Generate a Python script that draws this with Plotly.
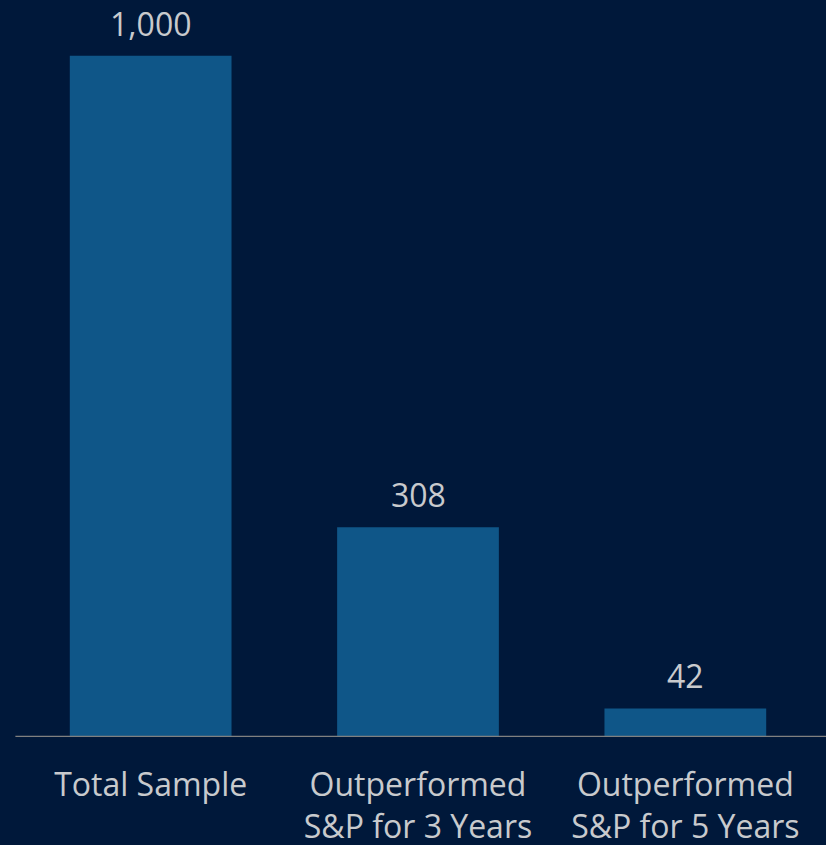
import plotly.graph_objects as go

categories = ["Total Sample", "Outperformed<br>S&P for 3 Years", "Outperformed<br>S&P for 5 Years"]
values = [1000, 308, 42]
value_labels = ["1,000", "308", "42"]

BG = "#00183A"
BAR = "#0F5688"
TEXT = "#C8CACD"
FONT = "Open Sans"

fig = go.Figure()
fig.add_trace(go.Bar(
    x=categories,
    y=values,
    marker=dict(color=BAR, line=dict(width=0)),
    width=0.605,
    hoverinfo="skip",
))

# value labels above each bar
for cat, val, lab in zip(categories, values, value_labels):
    fig.add_annotation(
        x=cat, y=val, text=lab, showarrow=False,
        yanchor="bottom", yshift=9,
        font=dict(family=FONT, size=32, color=TEXT),
    )

# baseline
fig.add_shape(
    type="line", xref="paper", yref="y",
    x0=-0.002, x1=1.01, y0=0, y1=0,
    line=dict(color="#808080", width=2.5),
)

fig.update_layout(
    width=826, height=845,
    margin=dict(l=17, r=7, t=0, b=108),
    paper_bgcolor=BG, plot_bgcolor=BG,
    showlegend=False,
    xaxis=dict(
        range=[-0.5, 2.5], showgrid=False, zeroline=False, showline=False,
        ticks="", tickfont=dict(family=FONT, size=32, color=TEXT),
        ticklabelstandoff=26, automargin=False,
        fixedrange=True,
    ),
    yaxis=dict(
        range=[0, 1082], visible=False, fixedrange=True, automargin=False,
    ),
)

fig.write_html("out.html", config={"displayModeBar": False})
